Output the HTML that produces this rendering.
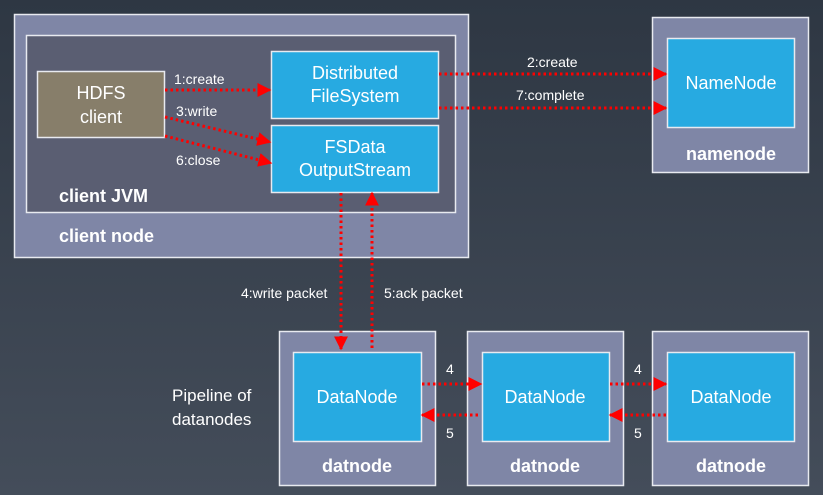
<!DOCTYPE html>
<html><head><meta charset="utf-8"><style>
html,body{margin:0;padding:0;width:823px;height:495px;overflow:hidden}
svg{display:block}
text{font-family:"Liberation Sans","DejaVu Sans",sans-serif;fill:#fff}
</style></head><body>
<svg width="823" height="495" viewBox="0 0 823 495" xmlns="http://www.w3.org/2000/svg">
<defs>
<linearGradient id="bg" x1="0" y1="0" x2="0" y2="1"><stop offset="0" stop-color="#2e3743"/><stop offset="1" stop-color="#444d5a"/></linearGradient>
<marker id="ar" viewBox="0 0 10 10" refX="9" refY="5" markerWidth="14" markerHeight="14" markerUnits="userSpaceOnUse" orient="auto"><path d="M0,0L10,5L0,10z" fill="#ff0000"/></marker>
</defs>
<rect width="823" height="495" fill="url(#bg)"/>
<g stroke="#e8eaf0" stroke-width="1.5">
<rect x="14.5" y="14.5" width="454" height="243" fill="#7f86a6"/>
<rect x="26.5" y="35.5" width="429" height="177" fill="#5a5e72"/>
<rect x="37.5" y="71.5" width="127" height="66" fill="#877e6a"/>
<rect x="271.5" y="51.5" width="167" height="67" fill="#27aae1"/>
<rect x="271.5" y="125.5" width="167" height="67" fill="#27aae1"/>
<rect x="652.5" y="17.5" width="156" height="155" fill="#7f86a6"/>
<rect x="667.5" y="38.5" width="127" height="89" fill="#27aae1"/>
<rect x="279.5" y="331.5" width="156" height="154" fill="#7f86a6"/>
<rect x="293.5" y="352.5" width="128" height="89" fill="#27aae1"/>
<rect x="467.5" y="331.5" width="156" height="154" fill="#7f86a6"/>
<rect x="482.5" y="352.5" width="127" height="89" fill="#27aae1"/>
<rect x="652.5" y="331.5" width="156" height="154" fill="#7f86a6"/>
<rect x="667.5" y="352.5" width="127" height="89" fill="#27aae1"/>
</g>
<g stroke="#ff0000" stroke-width="3" stroke-dasharray="2.5 3" fill="none" marker-end="url(#ar)">
<line x1="165" y1="90" x2="270" y2="90"/>
<line x1="165" y1="117" x2="270" y2="142"/>
<line x1="165" y1="136" x2="271" y2="163"/>
<line x1="439" y1="74" x2="666" y2="74"/>
<line x1="439" y1="108" x2="666" y2="108"/>
<line x1="341" y1="193" x2="341" y2="349"/>
<line x1="372" y1="348" x2="372" y2="193"/>
<line x1="422" y1="384" x2="481" y2="384"/>
<line x1="478" y1="415" x2="422" y2="415"/>
<line x1="610" y1="384" x2="666" y2="384"/>
<line x1="666" y1="415" x2="610" y2="415"/>
</g>
<g font-size="18" text-anchor="middle">
<text x="101" y="99">HDFS</text><text x="101" y="123">client</text>
<text x="355" y="79">Distributed</text><text x="355" y="102">FileSystem</text>
<text x="355" y="153">FSData</text><text x="355" y="176">OutputStream</text>
<text x="731" y="89">NameNode</text>
<text x="357" y="403">DataNode</text>
<text x="545" y="403">DataNode</text>
<text x="731" y="403">DataNode</text>
</g>
<g font-size="18" font-weight="bold" text-anchor="middle">
<text x="731" y="160">namenode</text>
<text x="357" y="472">datnode</text>
<text x="545" y="472">datnode</text>
<text x="731" y="472">datnode</text>
</g>
<g font-size="18" font-weight="bold">
<text x="59" y="202">client JVM</text>
<text x="59" y="242">client node</text>
</g>
<g font-size="14">
<text x="174" y="84">1:create</text>
<text x="176" y="116">3:write</text>
<text x="176" y="165">6:close</text>
<text x="527" y="67">2:create</text>
<text x="516" y="100">7:complete</text>
<text x="241" y="298">4:write packet</text>
<text x="384" y="298">5:ack packet</text>
<text x="446" y="374">4</text><text x="446" y="438">5</text>
<text x="634" y="374">4</text><text x="634" y="438">5</text>
</g>
<g font-size="17">
<text x="172" y="401">Pipeline of</text>
<text x="172" y="425">datanodes</text>
</g>
</svg>
</body></html>
